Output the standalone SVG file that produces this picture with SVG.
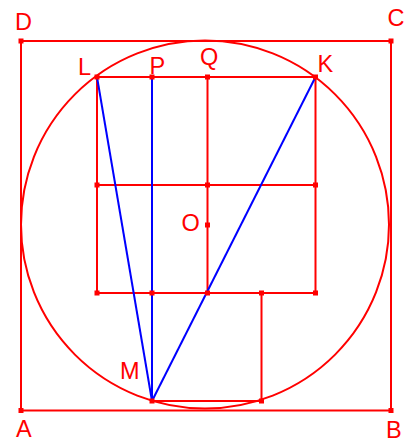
<svg xmlns="http://www.w3.org/2000/svg" width="414" height="441" viewBox="0 0 414 441">
<style>
.r{stroke:#ff0000;stroke-width:2;fill:none}
.b{stroke:#0000ff;stroke-width:2;fill:none}
.m{fill:#ff0000}
text{font-family:"Liberation Sans",Arial,sans-serif;font-size:23.5px;fill:#ff0000}
</style>
<defs><rect id="pt" x="-2.5" y="-2.5" width="5" height="5" class="m"/></defs>
<g id="connectors">
<rect class="r" x="21" y="41" width="370" height="369.5"/>
<circle class="r" cx="205" cy="224.5" r="184"/>
<polyline class="r" points="97,77 315.5,77 315.5,293 97,293 97,77"/>
<line class="r" x1="97" y1="185" x2="315.5" y2="185"/>
<line class="r" x1="207.5" y1="77" x2="207.5" y2="293"/>
<polyline class="r" points="152,293 152,401 261.5,401 261.5,293"/>
<line class="b" x1="97" y1="77" x2="152" y2="401"/>
<line class="b" x1="152" y1="77" x2="152" y2="401"/>
<line class="b" x1="315.5" y1="77" x2="152" y2="401"/>
</g>
<g id="A"><use href="#pt" x="21" y="410.5"/><text x="16" y="437">A</text></g>
<g id="B"><use href="#pt" x="391" y="410.5"/><text x="386" y="437.5">B</text></g>
<g id="C"><use href="#pt" x="391" y="41"/><text x="387.5" y="26">C</text></g>
<g id="D"><use href="#pt" x="21" y="41"/><text x="15" y="30">D</text></g>
<g id="L"><use href="#pt" x="97" y="77"/><text x="78" y="74.5">L</text></g>
<g id="P"><use href="#pt" x="152" y="77"/><text x="149.5" y="73.5">P</text></g>
<g id="Q"><use href="#pt" x="207.5" y="77"/><text x="200" y="65">Q</text></g>
<g id="K"><use href="#pt" x="315.5" y="77"/><text x="317.5" y="72">K</text></g>
<g id="O"><use href="#pt" x="207.5" y="225"/><text x="181.5" y="231">O</text></g>
<g id="M"><use href="#pt" x="152" y="401"/><text x="120" y="379">M</text></g>
<g id="grid-points">
<use href="#pt" x="97" y="185"/><use href="#pt" x="207.5" y="185"/><use href="#pt" x="315.5" y="185"/>
<use href="#pt" x="97" y="293"/><use href="#pt" x="152" y="293"/><use href="#pt" x="207.5" y="293"/><use href="#pt" x="261.5" y="293"/><use href="#pt" x="315.5" y="293"/>
<use href="#pt" x="261.5" y="401"/>
</g>
</svg>
